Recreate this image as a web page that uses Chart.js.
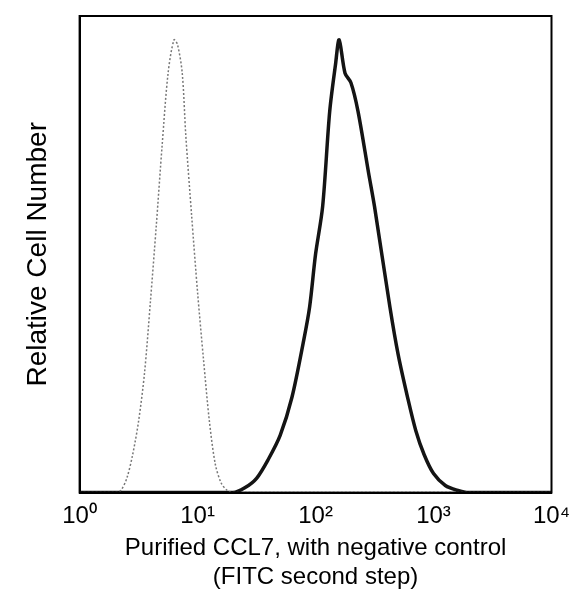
<!DOCTYPE html>
<html>
<head>
<script src="https://cdn.jsdelivr.net/npm/chart.js@4"></script>
<style>
body { margin: 0; background: #fff; }
#wrap { width: 574px; height: 594px; }
</style>
</head>
<body>
<div id="wrap"><canvas id="chartFlow"></canvas></div>
<script>
// log10 of fluorescence intensity, relative cell number (% of max)
var controlLog = [0, 0.3, 0.35, 0.40, 0.45, 0.50, 0.55, 0.60, 0.65, 0.70, 0.75, 0.80, 0.83, 0.87, 0.90, 0.95, 1.00, 1.05, 1.10, 1.15, 1.20, 1.25, 1.3, 4];
var controlVal = [0, 0, 0.5, 3, 8, 15, 25, 40, 56, 73, 88, 95, 94, 88, 75, 58, 42, 28, 15, 6, 2, 0.5, 0, 0];
var sampleLog = [0, 1.3, 1.4, 1.5, 1.6, 1.7, 1.8, 1.9, 1.95, 2.0, 2.06, 2.12, 2.17, 2.2, 2.25, 2.3, 2.36, 2.45, 2.5, 2.63, 2.7, 2.78, 2.85, 2.92, 3.0, 3.1, 3.2, 3.3, 4];
var sampleVal = [0, 0, 1, 3, 7, 12, 20, 32, 39, 50, 60, 80, 90, 95, 88, 86, 80, 67, 60, 39, 29, 20, 13, 8, 4, 1.5, 0.5, 0, 0];
var tickLabels = ['10\u2070', '10\u00b9', '10\u00b2', '10\u00b3', '10\u2074'];

function toPoints(xs, ys) {
    return xs.map(function(x, i) { return {x: x, y: ys[i]}; });
}

var ctx = document.getElementById('chartFlow');
new Chart(ctx, {
    type: 'line',
    data: {
        datasets: [{
            label: 'Negative control',
            data: toPoints(controlLog, controlVal),
            borderColor: 'rgb(120,120,120)',
            borderWidth: 1.5,
            borderDash: [2, 2],
            pointRadius: 0,
            tension: 0.3
        }, {
            label: 'Purified CCL7',
            data: toPoints(sampleLog, sampleVal),
            borderColor: 'rgb(20,20,20)',
            borderWidth: 3.5,
            pointRadius: 0,
            tension: 0.3
        }]
    },
    options: {
        responsive: true,
        maintainAspectRatio: false,
        animation: false,
        layout: { padding: { top: 16, right: 17, left: 21, bottom: 2 } },
        plugins: { legend: { display: false }, tooltip: { enabled: false } },
        scales: {
            x: {
                type: 'linear',
                min: 0, max: 4,
                grid: { display: false, drawTicks: true, tickLength: 5, tickColor: '#000' },
                border: { color: '#000', width: 2 },
                ticks: {
                    stepSize: 1,
                    color: '#000',
                    font: { family: 'Liberation Sans', size: 24 },
                    padding: 4,
                    callback: function(v) { return tickLabels[v]; }
                },
                title: {
                    display: true,
                    text: ['Purified CCL7, with negative control', '(FITC second step)'],
                    color: '#000',
                    font: { family: 'Liberation Sans', size: 24, lineHeight: 1.2 },
                    padding: { top: 0, bottom: 0 }
                }
            },
            y: {
                min: 0, max: 100,
                grid: { display: false, tickLength: 5, tickColor: '#000' },
                border: { color: '#000', width: 2 },
                ticks: { stepSize: 10, callback: function() { return ''; } },
                title: {
                    display: true,
                    text: 'Relative Cell Number',
                    color: '#000',
                    font: { family: 'Liberation Sans', size: 28 },
                    padding: { top: 0, bottom: 14 }
                }
            }
        }
    },
    plugins: [{
        id: 'frame',
        afterDraw: function(chart) {
            var a = chart.chartArea, c = chart.ctx;
            c.save();
            c.strokeStyle = '#000';
            c.lineWidth = 2;
            c.strokeRect(a.left, a.top, a.right - a.left, a.bottom - a.top);
            c.restore();
        }
    }]
});
</script>
</body>
</html>
